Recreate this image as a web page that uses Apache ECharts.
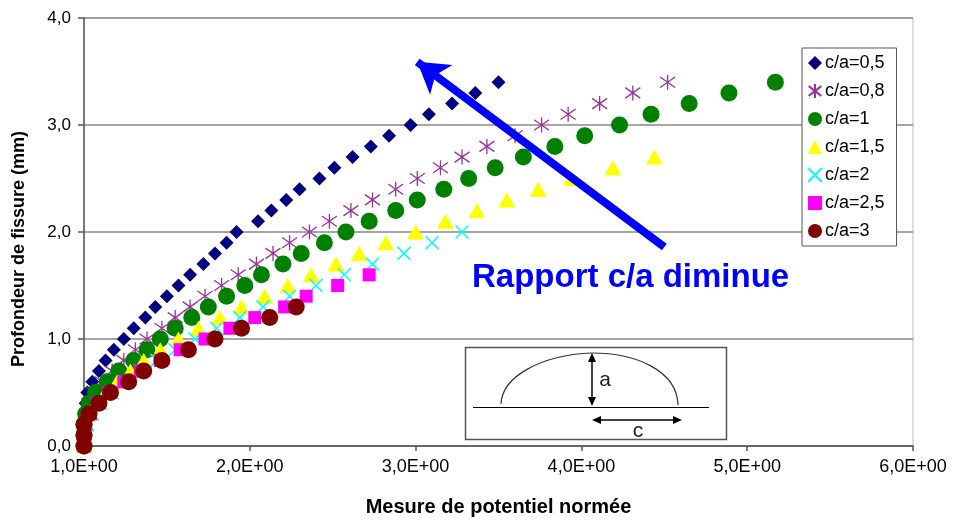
<!DOCTYPE html>
<html>
<head>
<meta charset="utf-8">
<script src="https://cdn.jsdelivr.net/npm/echarts@6/dist/echarts.min.js"></script>
<style>
html,body{margin:0;padding:0;background:#fff;}
#chart{width:955px;height:522px;}
</style>
</head>
<body>
<div id="chart"></div>
<script>
// ---- Data ----
const seriesNames = ['c/a=0,5','c/a=0,8','c/a=1','c/a=1,5','c/a=2','c/a=2,5','c/a=3'];

const x05 = [1.00,1.00,1.00,1.01,1.01,1.02,1.05,1.09,1.13,1.18,1.24,1.30,1.37,1.43,1.50,1.57,1.64,1.72,1.79,1.86,1.92,2.05,2.13,2.22,2.30,2.42,2.51,2.62,2.73,2.84,2.97,3.08,3.22,3.36,3.50];
const y05 = [0.0,0.1,0.2,0.3,0.4,0.5,0.6,0.7,0.8,0.9,1.0,1.1,1.2,1.3,1.4,1.5,1.6,1.7,1.8,1.9,2.0,2.1,2.2,2.3,2.4,2.5,2.6,2.7,2.8,2.9,3.0,3.1,3.2,3.3,3.4];

const x08 = [1.00,1.00,1.01,1.02,1.03,1.06,1.11,1.17,1.24,1.31,1.38,1.47,1.55,1.64,1.73,1.83,1.93,2.04,2.14,2.24,2.36,2.48,2.61,2.74,2.88,3.01,3.15,3.28,3.43,3.60,3.76,3.92,4.11,4.31,4.52];
const y08 = [0.0,0.1,0.2,0.3,0.4,0.5,0.6,0.7,0.8,0.9,1.0,1.1,1.2,1.3,1.4,1.5,1.6,1.7,1.8,1.9,2.0,2.1,2.2,2.3,2.4,2.5,2.6,2.7,2.8,2.9,3.0,3.1,3.2,3.3,3.4];

const x1 = [1.00,1.00,1.00,1.01,1.03,1.07,1.14,1.21,1.30,1.38,1.46,1.55,1.65,1.75,1.86,1.97,2.07,2.20,2.31,2.45,2.58,2.72,2.88,3.01,3.17,3.32,3.48,3.65,3.84,4.02,4.23,4.42,4.65,4.89,5.17];
const y1 = [0.0,0.1,0.2,0.3,0.4,0.5,0.6,0.7,0.8,0.9,1.0,1.1,1.2,1.3,1.4,1.5,1.6,1.7,1.8,1.9,2.0,2.1,2.2,2.3,2.4,2.5,2.6,2.7,2.8,2.9,3.0,3.1,3.2,3.3,3.4];

const x15 = [1.00,1.00,1.01,1.03,1.07,1.13,1.20,1.28,1.36,1.46,1.57,1.69,1.82,1.95,2.09,2.23,2.37,2.52,2.66,2.82,3.00,3.18,3.37,3.55,3.74,3.94,4.19,4.44];
const y15 = [0.0,0.1,0.2,0.3,0.4,0.5,0.6,0.7,0.8,0.9,1.0,1.1,1.2,1.3,1.4,1.5,1.6,1.7,1.8,1.9,2.0,2.1,2.2,2.3,2.4,2.5,2.6,2.7];

const x2 = [1.00,1.00,1.02,1.05,1.10,1.17,1.25,1.34,1.44,1.55,1.67,1.80,1.94,2.08,2.24,2.40,2.57,2.74,2.93,3.10,3.28];
const y2 = [0.0,0.1,0.2,0.3,0.4,0.5,0.6,0.7,0.8,0.9,1.0,1.1,1.2,1.3,1.4,1.5,1.6,1.7,1.8,1.9,2.0];

const x25 = [1.00,1.00,1.01,1.04,1.08,1.15,1.24,1.34,1.46,1.58,1.73,1.88,2.03,2.21,2.34,2.53,2.72];
const y25 = [0.0,0.1,0.2,0.3,0.4,0.5,0.6,0.7,0.8,0.9,1.0,1.1,1.2,1.3,1.4,1.5,1.6];

const x3 = [1.00,1.00,1.00,1.03,1.09,1.16,1.27,1.36,1.47,1.63,1.79,1.95,2.12,2.28];
const y3 = [0.0,0.1,0.2,0.3,0.4,0.5,0.6,0.7,0.8,0.9,1.0,1.1,1.2,1.3];

const xTickLabels = ['1,0E+00','2,0E+00','3,0E+00','4,0E+00','5,0E+00','6,0E+00'];
const yTickLabels = ['0,0','1,0','2,0','3,0','4,0'];

const arrowTail = [4.50, 1.86];
const arrowTip = [3.01, 3.59];
const annotationText = 'Rapport c/a diminue';

// ---- Build ----
const FONT = '"Liberation Sans", Arial, sans-serif';
function pairs(xs, ys){ return xs.map((x,i)=>[x, ys[i]]); }

const PATH_X = 'path://M0,0L10,10M10,0L0,10';
const PATH_AST = 'path://M5,0L5,10M0.5,1.5L9.5,8.5M9.5,1.5L0.5,8.5';

const seriesDefs = [
  {name: seriesNames[0], data: pairs(x05,y05), symbol:'diamond', symbolSize:14, itemStyle:{color:'#000080', opacity:1}},
  {name: seriesNames[1], data: pairs(x08,y08), symbol:PATH_AST, symbolSize:15, itemStyle:{color:'#993399', borderColor:'#993399', borderWidth:1.3, opacity:1}},
  {name: seriesNames[2], data: pairs(x1,y1), symbol:'circle', symbolSize:17, itemStyle:{color:'#008000', opacity:1}},
  {name: seriesNames[3], data: pairs(x15,y15), symbol:'triangle', symbolSize:[17,15], itemStyle:{color:'#FFFF00', opacity:1}},
  {name: seriesNames[4], data: pairs(x2,y2), symbol:PATH_X, symbolSize:13, itemStyle:{color:'#00FFFF', borderColor:'#00FFFF', borderWidth:1.5, opacity:1}},
  {name: seriesNames[5], data: pairs(x25,y25), symbol:'rect', symbolSize:13, itemStyle:{color:'#FF00FF', opacity:1}},
  {name: seriesNames[6], data: pairs(x3,y3), symbol:'circle', symbolSize:17, itemStyle:{color:'#800000', opacity:1}}
];

const series = seriesDefs.map(d => Object.assign({type:'scatter', z:3, emphasis:{disabled:true}, animation:false}, d));
series[0].markLine = {
  silent: true,
  animation: false,
  symbol: ['none','arrow'],
  symbolSize: [28, 30],
  label: {show:false},
  lineStyle: {color:'#0000FF', width:8, type:'solid', opacity:1},
  emphasis: {disabled:true},
  data: [[{coord: arrowTail}, {coord: arrowTip}]]
};

const chart = echarts.init(document.getElementById('chart'), null, {renderer:'canvas'});
chart.setOption({
  animation: false,
  backgroundColor: '#ffffff',
  textStyle: {fontFamily: FONT},
  grid: {left: 84, right: 42, top: 18, bottom: 74, show: true, borderColor: '#bbbbbb', borderWidth: 1, backgroundColor: 'transparent'},
  legend: {
    orient: 'vertical',
    left: 802, top: 48,
    backgroundColor: '#ffffff',
    borderColor: '#555555', borderWidth: 1,
    padding: [6, 12, 6, 5],
    itemWidth: 14, itemHeight: 14, itemGap: 10,
    textStyle: {fontSize: 18, color: '#000', fontFamily: FONT, lineHeight: 18, padding:[0,0,0,-2]},
    data: seriesNames,
    selectedMode: false
  },
  xAxis: {
    type: 'value', min: 1, max: 6, interval: 1,
    name: 'Mesure de potentiel normée',
    nameLocation: 'middle', nameGap: 51,
    nameTextStyle: {fontSize: 20, fontWeight: 'bold', color: '#000', fontFamily: FONT},
    axisLine: {show: true, onZero: false, lineStyle: {color: '#555', width: 1.5}},
    axisTick: {show: true, length: 5, lineStyle: {color: '#555', width: 1.5}},
    axisLabel: {fontSize: 18, color: '#000', margin: 12, fontFamily: FONT,
      formatter: v => xTickLabels[Math.round(v - 1)]},
    splitLine: {show: false}
  },
  yAxis: {
    type: 'value', min: 0, max: 4, interval: 1,
    name: 'Profondeur de fissure (mm)',
    nameLocation: 'middle', nameGap: 56,
    nameTextStyle: {fontSize: 18, fontWeight: 'bold', color: '#000', fontFamily: FONT, padding: [0, 34, 0, 0]},
    axisLine: {show: true, onZero: false, lineStyle: {color: '#555', width: 1.5}},
    axisTick: {show: true, length: 6, lineStyle: {color: '#555', width: 1.5}},
    axisLabel: {fontSize: 17, color: '#000', margin: 13, fontFamily: FONT,
      formatter: v => yTickLabels[Math.round(v)]},
    splitLine: {show: true, lineStyle: {color: '#888888', width: 1.5}}
  },
  graphic: [
    {type:'text', left: 472, top: 261, z: 10, silent: true,
      style: {text: annotationText, fill: '#0000FF', font: 'bold 33px ' + FONT}},
    // inset diagram box
    {type:'rect', z: 10, silent: true, shape: {x: 465.5, y: 347.5, width: 261, height: 92},
      style: {fill: '#fff', stroke: '#555', lineWidth: 1.5}},
    {type:'line', z: 11, silent: true, shape: {x1: 473, y1: 407.5, x2: 709, y2: 407.5},
      style: {stroke: '#000', lineWidth: 1}},
    {type:'bezierCurve', z: 11, silent: true,
      shape: {x1: 501, y1: 404, cpx1: 502, cpy1: 377, cpx2: 540, cpy2: 355, x2: 592, y2: 353},
      style: {stroke: '#333', lineWidth: 1.2, fill: null}},
    {type:'bezierCurve', z: 11, silent: true,
      shape: {x1: 592, y1: 353, cpx1: 635, cpy1: 353, cpx2: 677, cpy2: 370, x2: 678, y2: 405},
      style: {stroke: '#333', lineWidth: 1.2, fill: null}},
    {type:'line', z: 11, silent: true, shape: {x1: 592, y1: 358, x2: 592, y2: 400},
      style: {stroke: '#000', lineWidth: 1.5}},
    {type:'polygon', z: 11, silent: true, shape: {points: [[592,353],[588,362],[596,362]]}, style: {fill: '#000'}},
    {type:'polygon', z: 11, silent: true, shape: {points: [[592,406],[588,397],[596,397]]}, style: {fill: '#000'}},
    {type:'line', z: 11, silent: true, shape: {x1: 598, y1: 420, x2: 676, y2: 420},
      style: {stroke: '#000', lineWidth: 1.5}},
    {type:'polygon', z: 11, silent: true, shape: {points: [[592,420],[601,416],[601,424]]}, style: {fill: '#000'}},
    {type:'polygon', z: 11, silent: true, shape: {points: [[682,420],[673,416],[673,424]]}, style: {fill: '#000'}},
    {type:'text', z: 11, silent: true, x: 605, y: 380,
      style: {text: 'a', fill: '#222', font: '21px ' + FONT, align: 'center', verticalAlign: 'middle'}},
    {type:'text', z: 11, silent: true, x: 638, y: 431,
      style: {text: 'c', fill: '#222', font: '21px ' + FONT, align: 'center', verticalAlign: 'middle'}}
  ],
  series: series
});
</script>
</body>
</html>
